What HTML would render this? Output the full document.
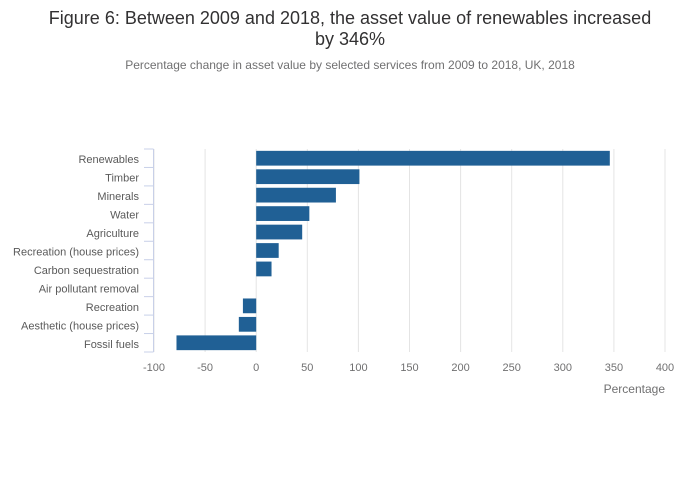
<!DOCTYPE html>
<html><head><meta charset="utf-8"><style>
body{margin:0;background:#fff;font-family:"Liberation Sans",sans-serif;}
#wrap{position:relative;width:700px;height:502px;overflow:hidden}
</style></head><body>
<div id="wrap">
<svg id="svg" width="700" height="502" xmlns="http://www.w3.org/2000/svg">
<text x="350" y="24" text-anchor="middle" font-size="18" fill="#323132">Figure 6: Between 2009 and 2018, the asset value of renewables increased</text>
<text x="350" y="45" text-anchor="middle" font-size="18" fill="#323132">by 346%</text>
<text x="350" y="69" text-anchor="middle" font-size="12" fill="#707071">Percentage change in asset value by selected services from 2009 to 2018, UK, 2018</text>
<g id="grid"></g><g id="bars"></g><g id="axes"></g>
<text x="665" y="393" text-anchor="end" font-size="12" fill="#707071">Percentage</text>
</svg></div>
<script>
const categories=["Renewables","Timber","Minerals","Water","Agriculture","Recreation (house prices)","Carbon sequestration","Air pollutant removal","Recreation","Aesthetic (house prices)","Fossil fuels"];
const values=[346,101,78,52,45,22,15,0,-13,-17,-78];
const xTicks=[-100,-50,0,50,100,150,200,250,300,350,400];
const NS="http://www.w3.org/2000/svg";
const x0=154,x1=665,yTop=149,yBot=352,xmin=-100,xmax=400;
const xs=v=>x0+(v-xmin)/(xmax-xmin)*(x1-x0);
const band=(yBot-yTop)/categories.length;
const ys=i=>yTop+i*band;
function mk(t,a,p){const e=document.createElementNS(NS,t);for(const k in a)e.setAttribute(k,a[k]);p.appendChild(e);return e;}
const grid=document.getElementById('grid'),bars=document.getElementById('bars'),axes=document.getElementById('axes');
xTicks.forEach(v=>{
 const l=mk('line',{x1:xs(v),x2:xs(v),y1:yTop,y2:yBot,stroke:'#e4e4e4','stroke-width':1},grid);
 
 
 const t=mk('text',{x:xs(v),y:371,'text-anchor':'middle','font-size':11,fill:'#707071'},axes);
 t.textContent=v;
 
 
});
categories.forEach((c,i)=>{
 const v=values[i];
 const r=mk('rect',{x:Math.min(xs(0),xs(v)),y:ys(i)+band*0.1,width:Math.abs(xs(v)-xs(0)),height:band*0.8,fill:'#206095'},bars);
 
 
 const t=mk('text',{x:139,y:ys(i)+band/2+5,'text-anchor':'end','font-size':11,fill:'#5a5a5a'},axes);
 t.textContent=c;
 
 
});
const ax=mk('line',{x1:153.5,x2:153.5,y1:yTop,y2:yBot,stroke:'#c8d0e8','stroke-width':1},axes);


for(let i=0;i<=categories.length;i++){
 const tk=mk('line',{x1:144,x2:153.5,y1:ys(i),y2:ys(i),stroke:'#c8d0e8','stroke-width':1},axes);
 
 
}
</script>
</body></html>
